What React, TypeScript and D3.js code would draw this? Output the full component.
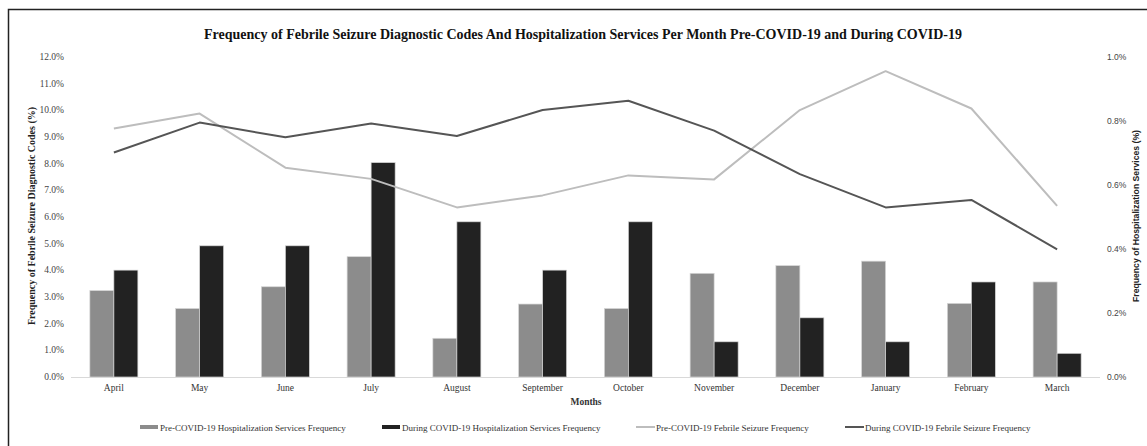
import { useEffect, useRef } from "react";
import * as d3 from "d3";

const months = ["April", "May", "June", "July", "August", "September", "October", "November", "December", "January", "February", "March"];
// hospitalization services frequency (%), right axis
const preHosp = [0.27, 0.214, 0.282, 0.376, 0.121, 0.228, 0.214, 0.324, 0.348, 0.362, 0.23, 0.297];
const duringHosp = [0.334, 0.41, 0.41, 0.67, 0.485, 0.334, 0.485, 0.11, 0.185, 0.11, 0.297, 0.074];
// febrile seizure diagnostic code frequency (%), left axis
const preFS = [9.32, 9.88, 7.85, 7.43, 6.36, 6.81, 7.56, 7.41, 10.01, 11.47, 10.07, 6.42];
const duringFS = [8.42, 9.54, 8.99, 9.51, 9.04, 10.01, 10.36, 9.24, 7.61, 6.36, 6.64, 4.79];
const leftTicks = [0, 1, 2, 3, 4, 5, 6, 7, 8, 9, 10, 11, 12];
const rightTicks = [0, 0.2, 0.4, 0.6, 0.8, 1.0];

const SERIF = "'Liberation Serif', 'Times New Roman', serif";
const SANS = "'Liberation Sans', Arial, sans-serif";

export default function App() {
  const ref = useRef<SVGSVGElement>(null);

  useEffect(() => {
    if (!ref.current) return;
    const W = 1147, H = 446;
    const X0 = 71, X1 = 1100, YT = 57, YB = 377;

    const svg = d3.select(ref.current).attr("width", W).attr("height", H);
    svg.selectAll("*").remove();

    svg.append("rect").attr("width", W).attr("height", H).attr("fill", "#fff");
    // outer frame (right/bottom fall outside the picture)
    svg.append("rect").attr("x", 8.5).attr("y", 9.5).attr("width", 1160).attr("height", 460)
      .attr("fill", "none").attr("stroke", "#222").attr("stroke-width", 1.5);

    const x = d3.scaleBand<string>().domain(months).range([X0, X1]).paddingInner(0.44).paddingOuter(0.22);
    const xs = d3.scaleBand<string>().domain(["pre", "during"]).range([0, x.bandwidth()]);
    const yL = d3.scaleLinear().domain([0, 12]).range([YB, YT]);
    const yR = d3.scaleLinear().domain([0, 1]).range([YB, YT]);

    // title
    svg.append("text").attr("x", 583).attr("y", 39).attr("text-anchor", "middle")
      .attr("font-family", SERIF).attr("font-size", 14).attr("font-weight", "bold").attr("fill", "#111")
      .text("Frequency of Febrile Seizure Diagnostic Codes And Hospitalization Services Per Month Pre-COVID-19 and During COVID-19");

    // left axis labels
    svg.append("g").selectAll("text").data(leftTicks).enter().append("text")
      .attr("x", 64).attr("y", d => yL(d) + 3).attr("text-anchor", "end")
      .attr("font-family", SERIF).attr("font-size", 9.5).attr("fill", "#444")
      .text(d => d3.format(".1f")(d) + "%");

    // right axis labels
    svg.append("g").selectAll("text").data(rightTicks).enter().append("text")
      .attr("x", 1107).attr("y", d => yR(d) + 3).attr("text-anchor", "start")
      .attr("font-family", SANS).attr("font-size", 8.5).attr("fill", "#444")
      .text(d => d3.format(".1f")(d) + "%");

    // axis titles
    svg.append("text").attr("transform", "translate(35,216) rotate(-90)").attr("text-anchor", "middle")
      .attr("font-family", SERIF).attr("font-size", 9.5).attr("font-weight", "bold").attr("fill", "#222")
      .attr("textLength", 218).attr("lengthAdjust", "spacingAndGlyphs")
      .text("Frequency of Febrile Seizure Diagnostic Codes (%)");
    svg.append("text").attr("transform", "translate(1139,216) rotate(-90)").attr("text-anchor", "middle")
      .attr("font-family", SANS).attr("font-size", 8.5).attr("font-weight", "bold").attr("fill", "#222")
      .attr("textLength", 172).attr("lengthAdjust", "spacingAndGlyphs")
      .text("Frequency of Hospitalization Services (%)");

    // bars
    const barSeries = [
      { key: "pre", vals: preHosp, color: "#8c8c8c" },
      { key: "during", vals: duringHosp, color: "#222222" },
    ];
    for (const s of barSeries) {
      svg.append("g").selectAll("rect").data(s.vals).enter().append("rect")
        .attr("x", (_, i) => (x(months[i]) ?? 0) + (xs(s.key) ?? 0))
        .attr("y", d => yR(d))
        .attr("width", xs.bandwidth())
        .attr("height", d => YB - yR(d))
        .attr("fill", s.color)
        .attr("stroke", "#d6d6d6").attr("stroke-width", 0.7);
    }

    // baseline
    svg.append("line").attr("x1", X0).attr("x2", X1).attr("y1", YB + 0.5).attr("y2", YB + 0.5)
      .attr("stroke", "#d9d9d9").attr("stroke-width", 1.2);

    // lines
    const cx = (i: number) => (x(months[i]) ?? 0) + x.bandwidth() / 2;
    const line = d3.line<number>().x((_, i) => cx(i)).y(d => yL(d));
    svg.append("path").attr("d", line(preFS)).attr("fill", "none")
      .attr("stroke", "#bdbdbd").attr("stroke-width", 2).attr("stroke-linejoin", "round");
    svg.append("path").attr("d", line(duringFS)).attr("fill", "none")
      .attr("stroke", "#555555").attr("stroke-width", 2).attr("stroke-linejoin", "round");

    // month labels
    svg.append("g").selectAll("text").data(months).enter().append("text")
      .attr("x", (_, i) => cx(i)).attr("y", 391).attr("text-anchor", "middle")
      .attr("font-family", SERIF).attr("font-size", 9.5).attr("fill", "#333")
      .text(d => d);
    svg.append("text").attr("x", 586).attr("y", 405).attr("text-anchor", "middle")
      .attr("font-family", SERIF).attr("font-size", 9.5).attr("font-weight", "bold").attr("fill", "#333")
      .text("Months");

    // legend
    const legend = [
      { label: "Pre-COVID-19 Hospitalization Services Frequency", color: "#8c8c8c", bar: true, x: 140 },
      { label: "During COVID-19 Hospitalization Services Frequency", color: "#222222", bar: true, x: 382 },
      { label: "Pre-COVID-19 Febrile Seizure Frequency", color: "#bdbdbd", bar: false, x: 636 },
      { label: "During COVID-19 Febrile Seizure Frequency", color: "#555555", bar: false, x: 845 },
    ];
    const lg = svg.append("g");
    for (const it of legend) {
      if (it.bar) {
        lg.append("rect").attr("x", it.x).attr("y", 425).attr("width", 18).attr("height", 4).attr("fill", it.color);
      } else {
        lg.append("line").attr("x1", it.x).attr("x2", it.x + 19).attr("y1", 427).attr("y2", 427)
          .attr("stroke", it.color).attr("stroke-width", 2);
      }
      lg.append("text").attr("x", it.x + 20).attr("y", 430.5)
        .attr("font-family", SERIF).attr("font-size", 9).attr("fill", "#333")
        .text(it.label);
    }
  }, []);

  return (
    <div style={{ position: "absolute", left: 0, top: 0, width: 1147, height: 446 }}>
      <svg ref={ref} style={{ display: "block" }} />
    </div>
  );
}
